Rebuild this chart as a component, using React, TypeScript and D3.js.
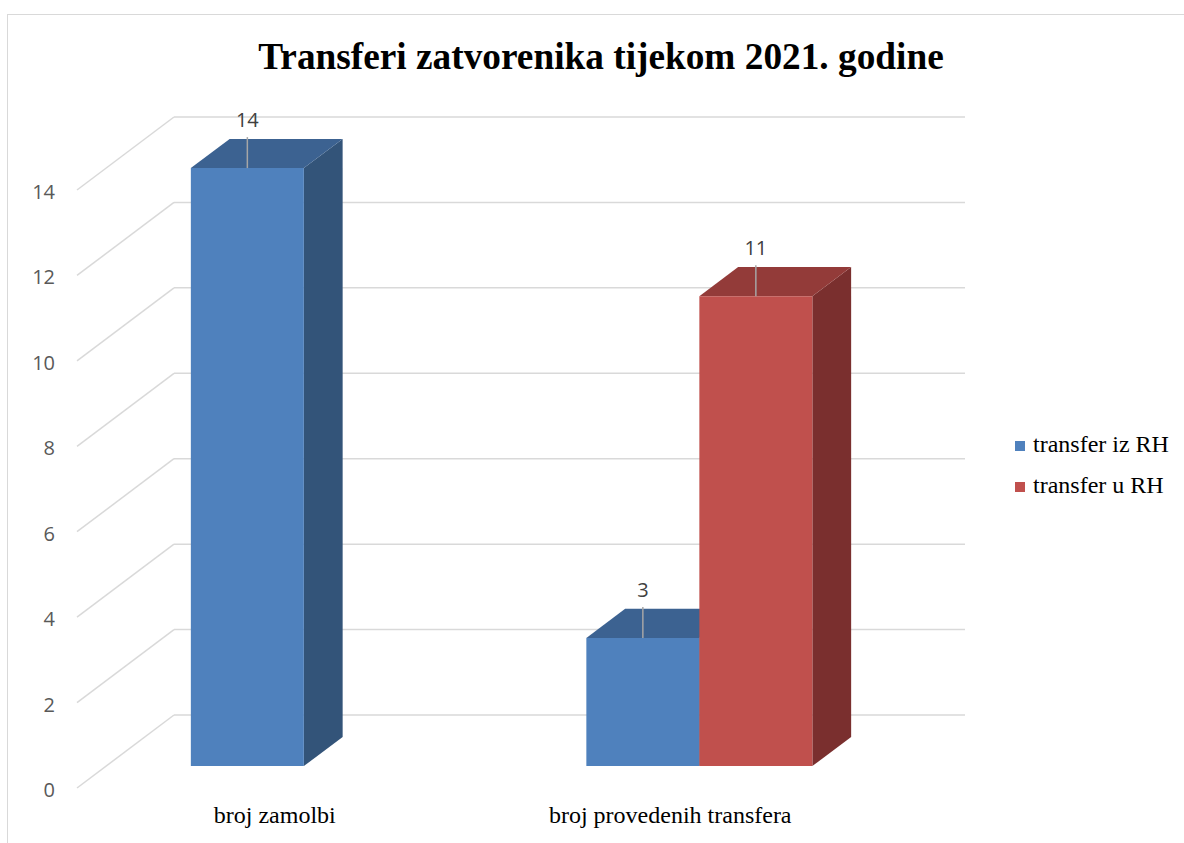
import React from "react";
import * as d3 from "d3";

const categories = ["broj zamolbi", "broj provedenih transfera"];
const seriesNames = ["transfer iz RH", "transfer u RH"];
const transferIzRH: (number | null)[] = [14, 3];
const transferURH: (number | null)[] = [null, 11];
const yTicks = [0, 2, 4, 6, 8, 10, 12, 14];
const title = "Transferi zatvorenika tijekom 2021. godine";

const seriesColors = [
  { front: "#4F81BD", top: "#3C6291", side: "#335479" },
  { front: "#C0504D", top: "#933B39", side: "#7A2F2E" },
];

export default function App() {
  const W = 1184;
  const H = 843;
  const backLeft = 174;
  const backRight = 965;
  const depthDx = -97;
  const depthDy = 73;
  const dFront = 0.7;
  const dBack = 0.3;

  const y = d3.scaleLinear().domain([0, 14]).range([715, 117]);
  const xCat = d3.scaleBand<string>().domain(categories).range([backLeft, backRight]).padding(0);
  const xSer = d3
    .scaleBand<string>()
    .domain(seriesNames)
    .range([0, xCat.bandwidth()])
    .paddingInner(0)
    .paddingOuter(0.75);

  const proj = (xb: number, v: number, d: number): [number, number] => [
    xb + d * depthDx,
    y(v) + d * depthDy,
  ];
  const pts = (arr: [number, number][]) => arr.map((p) => p.join(",")).join(" ");

  const seriesData = [transferIzRH, transferURH];
  const sans = "'Open Sans', 'Noto Sans', sans-serif";
  const serif = "'Liberation Serif', 'Times New Roman', serif";

  const bars: React.ReactNode[] = [];
  const labels: React.ReactNode[] = [];
  categories.forEach((cat, ci) => {
    seriesNames.forEach((s, si) => {
      const v = seriesData[si][ci];
      if (v === null || v === undefined) return;
      const x0 = (xCat(cat) as number) + (xSer(s) as number);
      const x1 = x0 + xSer.bandwidth();
      const c = seriesColors[si];
      const fTL = proj(x0, v, dFront);
      const fTR = proj(x1, v, dFront);
      const fBL = proj(x0, 0, dFront);
      const fBR = proj(x1, 0, dFront);
      const bTL = proj(x0, v, dBack);
      const bTR = proj(x1, v, dBack);
      const bBR = proj(x1, 0, dBack);
      bars.push(
        <g key={`${ci}-${si}`}>
          <polygon points={pts([fTR, bTR, bBR, fBR])} fill={c.side} />
          <polygon points={pts([fTL, bTL, bTR, fTR])} fill={c.top} />
          <polygon points={pts([fTL, fTR, fBR, fBL])} fill={c.front} />
        </g>
      );
      const cx = (fTL[0] + fTR[0]) / 2;
      const ty = fTL[1];
      labels.push(
        <g key={`l-${ci}-${si}`}>
          <line x1={cx} x2={cx} y1={ty} y2={ty - 31} stroke="#A6A6A6" strokeWidth={1.5} />
          <text x={cx} y={ty - 41} textAnchor="middle" fontFamily={sans} fontSize={20} fill="#404040">
            {v}
          </text>
        </g>
      );
    });
  });

  return (
    <svg width={W} height={H} style={{ position: "absolute", left: 0, top: 0, background: "#fff" }}>
      <rect x={7.5} y={14.5} width={1300} height={1000} fill="#fff" stroke="#D9D9D9" strokeWidth={1} />
      <text x={601} y={69} textAnchor="middle" fontFamily={serif} fontWeight="bold" fontSize={37.3} fill="#000">
        {title}
      </text>
      {yTicks.map((t) => {
        const [fx, fy] = proj(backLeft, t, 1);
        return (
          <g key={t}>
            <line x1={backLeft} x2={backRight} y1={y(t)} y2={y(t)} stroke="#D9D9D9" strokeWidth={1.5} />
            <line x1={backLeft} y1={y(t)} x2={fx} y2={fy} stroke="#D9D9D9" strokeWidth={1.5} />
            <text x={55} y={fy + 9} textAnchor="end" fontFamily={sans} fontSize={20} fill="#595959">
              {t}
            </text>
          </g>
        );
      })}
      {bars}
      {labels}
      {categories.map((cat) => {
        const xb = (xCat(cat) as number) + xCat.bandwidth() / 2;
        const [fx] = proj(xb, 0, 1);
        return (
          <text key={cat} x={fx} y={823} textAnchor="middle" fontFamily={serif} fontSize={24} fill="#000">
            {cat}
          </text>
        );
      })}
      {seriesNames.map((s, i) => (
        <g key={s} transform={`translate(1015, ${441 + i * 41})`}>
          <rect x={0} y={0} width={10} height={10} fill={seriesColors[i].front} />
          <text x={18} y={11} fontFamily={serif} fontSize={24} fill="#000">
            {s}
          </text>
        </g>
      ))}
    </svg>
  );
}
